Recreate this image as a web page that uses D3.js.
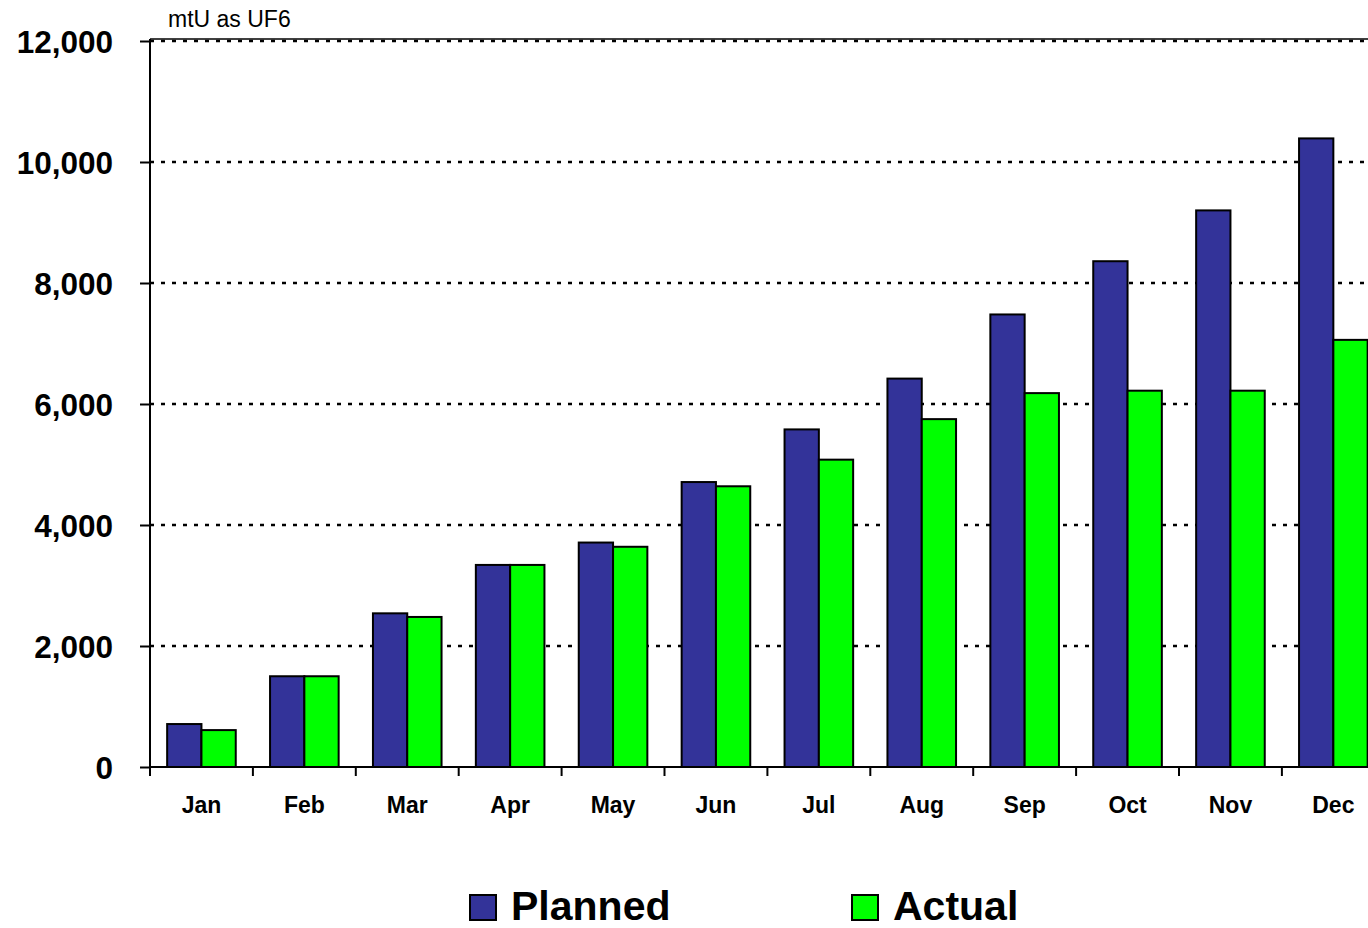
<!DOCTYPE html>
<html>
<head>
<meta charset="utf-8">
<script src="https://cdn.jsdelivr.net/npm/d3@7"></script>
<style>
  body{margin:0;background:#fff;overflow:hidden;}
  svg{display:block;font-family:"Liberation Sans",Arial,sans-serif;}
</style>
</head>
<body>
<svg id="chart" width="1368" height="928"></svg>
<script>
const months=["Jan","Feb","Mar","Apr","May","Jun","Jul","Aug","Sep","Oct","Nov","Dec"];
const planned=[710,1500,2540,3340,3710,4710,5580,6420,7480,8360,9200,10390];
const actual=[610,1500,2480,3340,3640,4640,5080,5750,6180,6220,6220,7060];
const yTicks=[0,2000,4000,6000,8000,10000,12000];
const series=["Planned","Actual"];
const colors={"Planned":"#333399","Actual":"#00ff00"};

let svg=d3.select("#chart");
let plotLeft=150, plotTop=41, plotBottom=767, plotRight=150+12*102.9;

let x0=d3.scaleBand().domain(months).range([plotLeft,plotRight]).padding(0);
let x1=d3.scaleBand().domain(series).range([0,x0.bandwidth()]).paddingInner(0).paddingOuter(0.5);
let y=d3.scaleLinear().domain([0,12000]).range([plotBottom,plotTop]);

// dotted grid
svg.append("g").selectAll("line").data(yTicks.filter(d=>d>0)).join("line")
  .attr("x1",plotLeft).attr("x2",plotRight)
  .attr("y1",d=>y(d)).attr("y2",d=>y(d))
  .attr("stroke","#000").attr("stroke-width",2.5).attr("stroke-dasharray","4 7");

// top border
svg.append("line").attr("x1",plotLeft).attr("x2",plotRight).attr("y1",plotTop-2).attr("y2",plotTop-2)
  .attr("stroke","#000").attr("stroke-width",1.5);

// bars
let rows=months.map((m,i)=>({month:m,values:[{key:"Planned",v:planned[i]},{key:"Actual",v:actual[i]}]}));
svg.append("g").selectAll("g").data(rows).join("g")
  .attr("transform",d=>"translate("+x0(d.month)+",0)")
  .selectAll("rect").data(d=>d.values).join("rect")
  .attr("x",d=>x1(d.key)).attr("width",x1.bandwidth())
  .attr("y",d=>y(d.v)).attr("height",d=>y(0)-y(d.v))
  .attr("fill",d=>colors[d.key]).attr("stroke","#000").attr("stroke-width",2);

// y axis
let yAxis=svg.append("g").attr("transform","translate("+plotLeft+",0)")
  .call(d3.axisLeft(y).tickValues(yTicks).tickSize(10).tickPadding(27).tickFormat(d3.format(",")));
yAxis.select(".domain").attr("d","M0,"+(plotTop-2)+"V"+plotBottom).attr("stroke-width",2);
yAxis.selectAll(".tick line").attr("stroke-width",2);
yAxis.selectAll(".tick text").attr("font-size",31.5).attr("font-weight","bold").attr("fill","#000")
  .attr("font-family","Liberation Sans, Arial, sans-serif").attr("dy","0.36em");

// x axis
let xg=svg.append("g");
xg.append("line").attr("x1",plotLeft).attr("x2",plotRight).attr("y1",plotBottom).attr("y2",plotBottom)
  .attr("stroke","#000").attr("stroke-width",2);
xg.selectAll(".xtick").data(months).join("line").attr("class","xtick")
  .attr("x1",d=>x0(d)).attr("x2",d=>x0(d)).attr("y1",plotBottom).attr("y2",plotBottom+9)
  .attr("stroke","#000").attr("stroke-width",2);
xg.selectAll(".xlab").data(months).join("text").attr("class","xlab")
  .attr("x",d=>x0(d)+x0.bandwidth()/2).attr("y",813)
  .attr("text-anchor","middle").attr("font-size",23).attr("font-weight","bold").text(d=>d);

// unit label
svg.append("text").attr("x",168).attr("y",27).attr("font-size",23).text("mtU as UF6");

// legend
let legX=[470,852];
let leg=svg.append("g").selectAll("g").data(series).join("g")
  .attr("transform",(d,i)=>"translate("+legX[i]+",895)");
leg.append("rect").attr("width",26).attr("height",25)
  .attr("fill",d=>colors[d]).attr("stroke","#000").attr("stroke-width",2);
leg.append("text").attr("x",41).attr("y",25).attr("font-size",41).attr("font-weight","bold").text(d=>d);
</script>
</body>
</html>
